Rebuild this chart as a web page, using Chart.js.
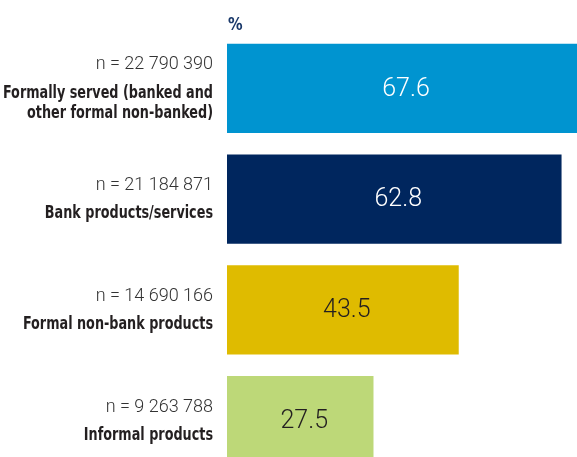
<!DOCTYPE html>
<html>
<head>
<meta charset="utf-8">
<script src="https://cdn.jsdelivr.net/npm/chart.js@4.4.1/dist/chart.umd.min.js"></script>
<style>
  html, body { margin: 0; padding: 0; background: #fff; overflow: hidden; }
  #wrap { position: relative; width: 577px; height: 476px; }
</style>
</head>
<body>
<div id="wrap"><canvas id="chart"></canvas></div>
<script>
// Share of adults using each kind of financial product
const categories = [
  ['Formally served (banked and', 'other formal non-banked)'],
  ['Bank products/services'],
  ['Formal non-bank products'],
  ['Informal products']
];
const counts = ['n = 22 790 390', 'n = 21 184 871', 'n = 14 690 166', 'n = 9 263 788'];
const shares = [67.6, 62.8, 43.5, 27.5];
const barColors = ['#0094d0', '#00265e', '#dfbb00', '#bdd878'];
const valueColors = ['#ffffff', '#ffffff', '#231f20', '#231f20'];

const DARK = '#231f20';
const BOLD_FONT = 'bold 18px "DejaVu Sans Condensed", "DejaVu Sans", sans-serif';
const SQUEEZE = 0.79; // narrow the bold labels horizontally

// condensed text, right-aligned at x
function narrowText(ctx, text, x, y, k) {
  ctx.save();
  ctx.translate(x, y);
  ctx.scale(k, 1);
  ctx.fillText(text, 0, 0);
  ctx.restore();
}

// draws the category labels, the n counts, the values and the unit
const labelPlugin = {
  id: 'labels',
  afterDatasetsDraw(chart) {
    const ctx = chart.ctx;
    const yScale = chart.scales.y;
    const xScale = chart.scales.x;
    const area = chart.chartArea;
    ctx.save();
    ctx.textBaseline = 'middle';

    // unit above the bars
    ctx.fillStyle = '#1b3a6b';
    ctx.font = BOLD_FONT;
    ctx.textAlign = 'left';
    narrowText(ctx, '%', area.left + 1, 25, 0.9);

    const rightX = area.left - 14;
    categories.forEach((lines, i) => {
      const cy = yScale.getPixelForValue(i);
      const nLines = lines.length;
      // block: count line, then the bold label lines
      const top = cy - (27 + (nLines - 1) * 20) / 2;
      ctx.textAlign = 'right';
      ctx.fillStyle = '#333333';
      ctx.font = '300 18px Roboto, sans-serif';
      ctx.fillText(counts[i], rightX, top);
      ctx.fillStyle = DARK;
      ctx.font = BOLD_FONT;
      lines.forEach((t, j) => {
        narrowText(ctx, t, rightX, top + 28 + j * 20, SQUEEZE);
      });

      // value in the middle of the visible bar
      const x0 = xScale.getPixelForValue(0);
      const x1 = Math.min(xScale.getPixelForValue(shares[i]), area.right);
      ctx.textAlign = 'center';
      ctx.fillStyle = valueColors[i];
      ctx.font = '300 25px Roboto, sans-serif';
      ctx.fillText(shares[i].toFixed(1), (x0 + x1) / 2 + 4, cy + 1);
    });
    ctx.restore();
  }
};

new Chart(document.getElementById('chart'), {
  type: 'bar',
  data: {
    labels: categories.map(l => l.join(' ')),
    datasets: [{
      data: shares,
      backgroundColor: barColors,
      borderWidth: 0,
      barPercentage: 1,
      categoryPercentage: 0.804
    }]
  },
  options: {
    indexAxis: 'y',
    responsive: true,
    maintainAspectRatio: false,
    animation: false,
    layout: { padding: { left: 227, top: 33, right: 0, bottom: 0 } },
    plugins: {
      legend: { display: false },
      tooltip: { enabled: false }
    },
    scales: {
      x: { display: false, min: 0, max: 65.7 },
      y: { display: false }
    }
  },
  plugins: [labelPlugin]
});
</script>
</body>
</html>
